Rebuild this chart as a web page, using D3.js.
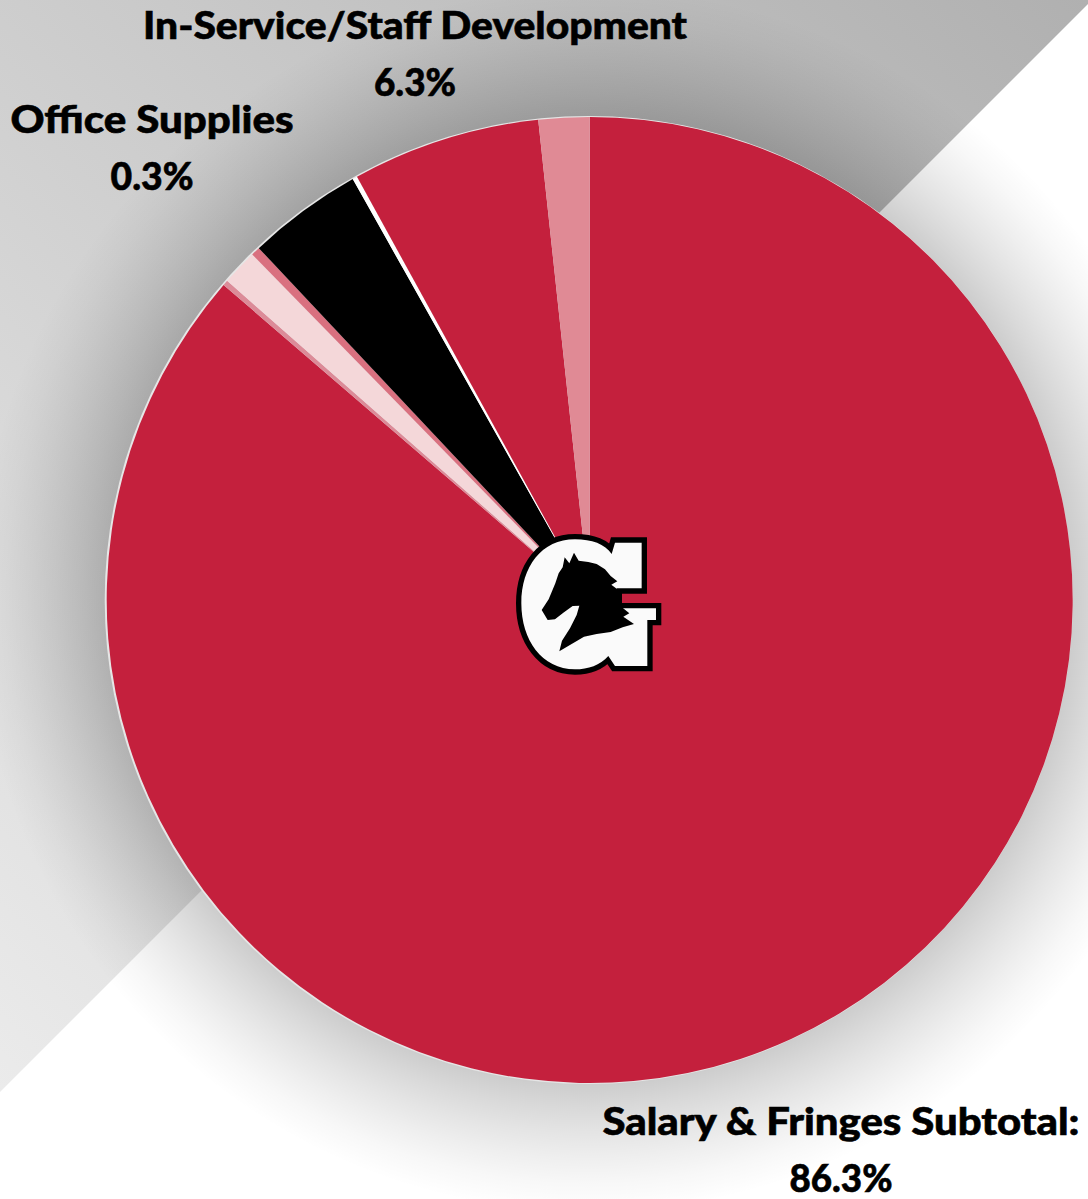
<!DOCTYPE html>
<html><head><meta charset="utf-8">
<script src="https://cdnjs.cloudflare.com/ajax/libs/d3/7.8.5/d3.min.js"></script>
<style>html,body{margin:0;padding:0;background:#fff}svg{display:block}text{font-family:Lato,sans-serif;font-weight:900;fill:#000;stroke:#000;stroke-width:.6px}</style>
</head><body><div id="c"></div>
<script>
// Slices clockwise from 12 o'clock, percent of budget
const categories = ["Salary & Fringes Subtotal:","Other A","Other B","Office Supplies","Other C","Other D","In-Service/Staff Development","Other E"];
const values = [86.3,0.18,1.2,0.3,3.85,0.16,6.3,1.7];
const colors = ["#c4203d","#dc8b98","#f4d7d9","#d9707f","#000000","#ffffff","#c4203d","#e08a95"];
const labelNames = ["In-Service/Staff Development","Office Supplies","Salary & Fringes Subtotal:"];
const labelValues = ["6.3%","0.3%","86.3%"];

const W=1088,H=1199,cx=589.7,cy=600,R=483;
const svg=d3.select("#c").append("svg").attr("width",W).attr("height",H);
const defs=svg.append("defs");

const band=defs.append("linearGradient").attr("id","band").attr("gradientUnits","userSpaceOnUse")
  .attr("x1",0).attr("y1",1090).attr("x2",1088).attr("y2",0);
band.append("stop").attr("offset",0).attr("stop-color","#ebebeb");
band.append("stop").attr("offset",1).attr("stop-color","#b0b0b0");

const outer=R+130;
const sh=defs.append("radialGradient").attr("id","shadow").attr("gradientUnits","userSpaceOnUse")
  .attr("cx",cx-1).attr("cy",cy).attr("r",outer);
const shFalloff=[[0,.2],[25,.15],[50,.105],[75,.065],[100,.03],[130,0]];
sh.append("stop").attr("offset",0).attr("stop-color","#000").attr("stop-opacity",.2);
shFalloff.forEach(s=>sh.append("stop").attr("offset",(R+s[0])/outer).attr("stop-color","#000").attr("stop-opacity",s[1]));

defs.append("filter").attr("id","soft").append("feGaussianBlur").attr("stdDeviation",1.2);

svg.append("rect").attr("width",W).attr("height",H).attr("fill","#fff");
svg.append("path").attr("d",d3.line()([[0,0],[1092,0],[0,1092]])+"Z").attr("fill","url(#band)");
svg.append("circle").attr("cx",cx-1).attr("cy",cy).attr("r",outer).attr("fill","url(#shadow)");
svg.append("circle").attr("cx",cx-1).attr("cy",cy).attr("r",R+1).attr("fill","#e6e6e6");

const pie=d3.pie().sort(null).value(d=>d).startAngle(0).endAngle(2*Math.PI);
const arc=d3.arc().innerRadius(0).outerRadius(R);
svg.append("g").attr("transform",`translate(${cx},${cy})`)
  .selectAll("path").data(pie(values)).join("path")
  .attr("d",arc).attr("fill",(d,i)=>colors[i]);

// Team logo in the middle of the pie
const logo=svg.append("g").attr("transform","translate(500,520) scale(0.3333)").attr("filter","url(#soft)");
logo.append("path")
  .attr("d","M225,58 C275,58 315,72 335,102 L345,68 L425,68 L425,205 L350,205 L350,265 L468,265 L468,300 L442,300 L442,438 L345,438 L325,408 C300,436 265,448 225,448 C125,448 64,360 64,250 C64,140 125,58 225,58 Z")
  .attr("fill","#fafafa").attr("stroke","#000").attr("stroke-width",32).attr("stroke-linejoin","miter").style("paint-order","stroke");
logo.append("path")
  .attr("d","M188,142 L194,112 L208,130 L222,98 L236,122 L265,126 L290,132 L315,148 L332,168 L352,184 L334,194 L358,212 L362,240 L364,260 L388,280 L370,290 L402,312 L368,322 L332,336 L290,342 L252,350 L178,394 L186,362 L210,325 L230,285 L238,257 L218,258 L190,278 L165,298 L143,300 L125,270 L146,238 L166,190 L176,160 Z")
  .attr("fill","#000");

// Labels
const labelX=[415,152,841], labelW=[544,283,477], nameY=[39,133,1135], valueY=[96,190,1192], valueW=[82,83,103];
const labels=svg.append("g").attr("font-size",38);
labelNames.forEach((t,i)=>{
  labels.append("text").attr("x",labelX[i]).attr("y",nameY[i]).attr("text-anchor","middle")
    .attr("textLength",labelW[i]).attr("lengthAdjust","spacingAndGlyphs").text(t);
  labels.append("text").attr("x",labelX[i]).attr("y",valueY[i]).attr("text-anchor","middle")
    .attr("textLength",valueW[i]).attr("lengthAdjust","spacingAndGlyphs").text(labelValues[i]);
});
</script></body></html>
